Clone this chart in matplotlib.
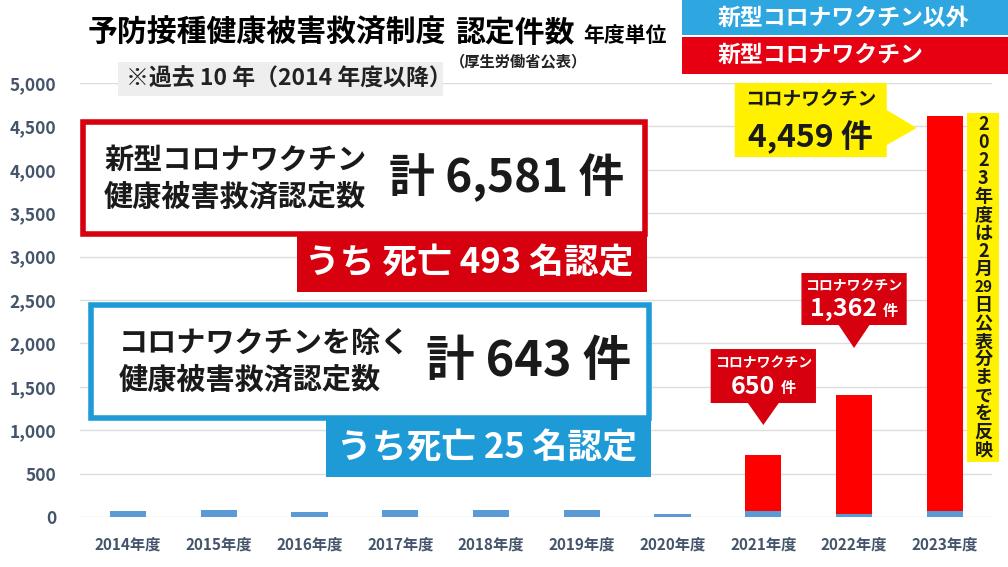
import matplotlib
matplotlib.use("Agg")
import matplotlib.pyplot as plt
from matplotlib.patches import Rectangle, Polygon

plt.rcParams['font.family'] = ['Noto Sans CJK JP', 'DejaVu Sans']

# データ
years = ["2014年度", "2015年度", "2016年度", "2017年度", "2018年度",
         "2019年度", "2020年度", "2021年度", "2022年度", "2023年度"]
other_vax = [65, 75, 55, 75, 75, 85, 40, 65, 40, 68]
covid_vax = [0, 0, 0, 0, 0, 0, 0, 650, 1362, 4550]   # 棒の高さ
covid_labels = {7: 650, 8: 1362, 9: 4459}             # 吹き出しの件数
yticks = [0, 500, 1000, 1500, 2000, 2500, 3000, 3500, 4000, 4500, 5000]

W, H = 1008, 567
fig = plt.figure(figsize=(W / 100, H / 100), dpi=100)
fig.patch.set_facecolor("white")

def fx(px):
    return px / W

def fy(py):
    return 1 - py / H

ax = fig.add_axes([fx(80), fy(517), fx(992) - fx(80), fy(83) - fy(517)])
x = list(range(len(years)))
ax.bar(x, other_vax, width=0.4, color="#5B9BD5", zorder=3)
ax.bar(x, covid_vax, width=0.4, bottom=other_vax, color="#FF0000", zorder=3)

ax.set_xlim(-0.53, 9.52)
ax.set_ylim(0, 5000)
ax.set_yticks(yticks)
ax.set_yticklabels([f"{v:,}" for v in yticks], fontsize=12.5,
                   color="#44546A", fontweight="bold")
ax.set_xticks(x)
ax.set_xticklabels(years, fontsize=11, color="#44546A", fontweight="bold")
ax.tick_params(length=0)
ax.tick_params(axis="y", pad=17)
ax.tick_params(axis="x", pad=14)
ax.grid(axis="y", color="#DDDDDD", linewidth=1, zorder=0)
for s in ax.spines.values():
    s.set_visible(False)

# タイトル
fig.text(fx(88), fy(33), "予防接種健康被害救済制度", fontsize=21.5, fontweight="bold",
         va="center", ha="left")
fig.text(fx(455), fy(33), "認定件数", fontsize=21.5, fontweight="bold",
         va="center", ha="left")
fig.text(fx(583), fy(35), "年度単位", fontsize=15, fontweight="bold",
         va="center", ha="left")
fig.text(fx(450), fy(61), "（厚生労働省公表）", fontsize=11, fontweight="bold",
         va="center", ha="left", color="#222222")
fig.patches.append(Rectangle((fx(118), fy(96)), fx(443) - fx(118), fy(62) - fy(96),
                             transform=fig.transFigure, facecolor="#EEEEEE",
                             edgecolor="none", zorder=1))
fig.text(fx(126), fy(79), "※過去 10 年（2014 年度以降）", fontsize=16.5,
         fontweight="bold", va="center", ha="left", color="#222222", zorder=2)

# 凡例
fig.patches.append(Rectangle((fx(682), fy(35)), fx(W) - fx(682), fy(0) - fy(35),
                             transform=fig.transFigure, facecolor="#2EA7E0",
                             edgecolor="none"))
fig.patches.append(Rectangle((fx(682), fy(74)), fx(W) - fx(682), fy(37) - fy(74),
                             transform=fig.transFigure, facecolor="#E60012",
                             edgecolor="none"))
fig.text(fx(718), fy(18), "新型コロナワクチン以外", fontsize=16.5, fontweight="bold",
         color="white", va="center")
fig.text(fx(718), fy(55), "新型コロナワクチン", fontsize=16.5, fontweight="bold",
         color="white", va="center")

# 集計ボックス
def summary_box(top, bottom, left, right, tab_left, tab_bottom, color,
                label, label_x, total, total_size, total_x, death):
    fig.patches.append(Rectangle((fx(left), fy(bottom)), fx(right) - fx(left),
                                 fy(top) - fy(bottom), transform=fig.transFigure,
                                 facecolor="white", edgecolor=color,
                                 linewidth=4, zorder=5))
    fig.patches.append(Rectangle((fx(tab_left), fy(tab_bottom)),
                                 fx(right + 2) - fx(tab_left),
                                 fy(bottom) - fy(tab_bottom),
                                 transform=fig.transFigure, facecolor=color,
                                 edgecolor="none", zorder=5))
    mid = (top + bottom) / 2
    fig.text(fx(label_x), fy(mid), label, fontsize=21, fontweight="bold",
             va="center", ha="left", linespacing=1.28, color="#1A1A1A", zorder=6)
    fig.text(fx(total_x), fy(mid), total, fontsize=total_size, fontweight="bold",
             va="center", ha="right", color="#1A1A1A", zorder=6)
    fig.text(fx(right - 12), fy((bottom + tab_bottom) / 2), death, fontsize=25,
             fontweight="bold", va="center", ha="right", color="white", zorder=6)

summary_box(122, 234, 83, 645, 297, 292, "#D7000F",
            "新型コロナワクチン\n健康被害救済認定数", 104, "計 6,581 件", 33, 624,
            "うち 死亡 493 名認定")
summary_box(305, 418, 91, 649, 326, 477, "#1E9BD7",
            "コロナワクチンを除く\n健康被害救済認定数", 119, "計 643 件", 35, 631,
            "うち死亡 25 名認定")

fig.canvas.draw()
renderer = fig.canvas.get_renderer()

# 吹き出し（赤）
def red_callout(i, box_bottom, box_top, tip_y, count):
    hw = 0.58
    pw = 0.17
    pts = [(i - hw, box_top), (i + hw, box_top), (i + hw, box_bottom),
           (i + pw, box_bottom), (i, tip_y), (i - pw, box_bottom),
           (i - hw, box_bottom)]
    ax.add_patch(Polygon(pts, closed=True, facecolor="#D7000F",
                         edgecolor="none", zorder=6, clip_on=False))
    h = box_top - box_bottom
    ax.text(i, box_bottom + h * 0.74, "コロナワクチン", fontsize=10,
            fontweight="bold", color="white", ha="center", va="center", zorder=7)
    num = ax.text(i, box_bottom + h * 0.3, f"{count:,}", fontsize=18,
                  fontweight="bold", color="white", ha="center", va="center",
                  zorder=7)
    ken = ax.text(i, box_bottom + h * 0.27, "件", fontsize=11,
                  fontweight="bold", color="white", ha="left", va="center",
                  zorder=7)
    wn = num.get_window_extent(renderer).width
    wk = ken.get_window_extent(renderer).width
    gap = 6
    total = wn + gap + wk
    px_per_unit = ax.transData.transform((1, 0))[0] - ax.transData.transform((0, 0))[0]
    num.set_x(i - (total / 2 - wn / 2) / px_per_unit)
    ken.set_x(i + (total / 2 - wk) / px_per_unit)

red_callout(7, 1313, 1935, 1060, covid_labels[7])
red_callout(8, 2212, 2811, 1947, covid_labels[8])

# 吹き出し（黄）
yl_pts = [(6.685, 5000), (8.36, 5000), (8.36, 4689), (8.69, 4482),
          (8.36, 4286), (8.36, 4147), (6.685, 4147)]
ax.add_patch(Polygon(yl_pts, closed=True, facecolor="#FFF100", edgecolor="none",
                     zorder=6, clip_on=False))
ax.text(7.52, 4800, "コロナワクチン", fontsize=13.5, fontweight="bold",
        color="#1A1A1A", ha="center", va="center", zorder=7)
ax.text(7.52, 4370, f"{covid_labels[9]:,} 件", fontsize=23, fontweight="bold",
        color="#1A1A1A", ha="center", va="center", zorder=7)

# 縦書き注記
ax.add_patch(Rectangle((9.25, 634), 0.35, 4654 - 634, facecolor="#FFF100",
                       edgecolor="none", zorder=6, clip_on=False))
vchars = ["2", "0", "2", "3", "年", "度", "は", "2", "月", "29", "日", "公",
          "表", "分", "ま", "で", "を", "反", "映"]
y0, y1 = 4520, 770
step = (y0 - y1) / (len(vchars) - 1)
for k, c in enumerate(vchars):
    ax.text(9.425, y0 - k * step, c, fontsize=13 if len(c) == 1 else 11,
            fontweight="bold", color="#1A1A1A", ha="center", va="center",
            zorder=7, clip_on=False)

fig.savefig("out.png", dpi=100)
